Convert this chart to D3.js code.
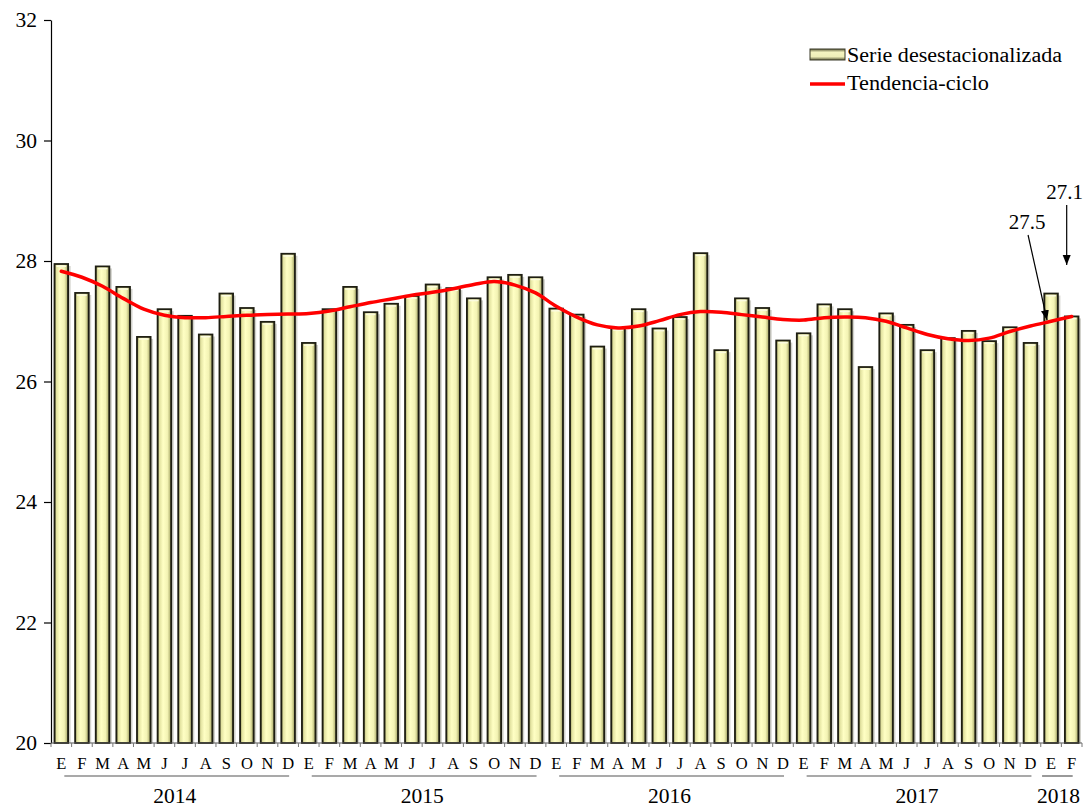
<!DOCTYPE html>
<html>
<head>
<meta charset="utf-8">
<script src="https://cdn.jsdelivr.net/npm/d3@7"></script>
<style>
html,body{margin:0;padding:0;background:#fff;}
svg{display:block;font-family:"Liberation Serif","Times New Roman",serif;}
</style>
</head>
<body>
<svg id="chart" width="1086" height="807"></svg>
<script>
const months = ["E","F","M","A","M","J","J","A","S","O","N","D"];
const years = ["2014","2015","2016","2017","2018"];
const monthsPerYear = [12,12,12,12,2];
const yTicks = [20,22,24,26,28,30,32];

const serie = [27.95,27.47,27.91,27.57,26.74,27.20,27.09,26.78,27.46,27.22,26.99,28.12,
               26.64,27.20,27.57,27.15,27.29,27.42,27.61,27.55,27.38,27.73,27.77,27.73,
               27.21,27.11,26.58,26.89,27.20,26.88,27.07,28.13,26.52,27.38,27.22,26.68,
               26.80,27.28,27.20,26.24,27.13,26.94,26.52,26.72,26.84,26.67,26.90,26.64,
               27.46,27.08];
const tendencia = [27.83,27.73,27.58,27.38,27.20,27.10,27.06,27.06,27.08,27.10,27.11,27.12,
                   27.13,27.17,27.24,27.31,27.37,27.43,27.48,27.54,27.61,27.66,27.60,27.47,
                   27.25,27.07,26.94,26.89,26.92,27.01,27.11,27.16,27.15,27.11,27.07,27.03,
                   27.02,27.06,27.07,27.06,27.00,26.89,26.78,26.71,26.68,26.72,26.83,26.92,
                   27.00,27.08];
const annotations = [{idx:48, text:"27.5"},{idx:49, text:"27.1"}];

(function(){
const svg = d3.select("#chart");
const pLeft = 51, pRight = 1082, pTop = 20, pBottom = 743;

const idx = d3.range(serie.length);
const x = d3.scaleBand().domain(idx).range([pLeft, pRight]).paddingInner(0.34).paddingOuter(0.17);
const y = d3.scaleLinear().domain([20, 32]).range([pBottom, pTop]);
const step = x.step(), off = (step - x.bandwidth()) / 2;

const defs = svg.append("defs");
const g = defs.append("linearGradient").attr("id","barGrad").attr("x1","0").attr("x2","1").attr("y1","0").attr("y2","0");
[[0,"#7a7a48"],[0.14,"#e2e2a0"],[0.4,"#ffffc4"],[0.72,"#f3f3b4"],[0.88,"#c4c484"],[1,"#6a6a3e"]]
  .forEach(s => g.append("stop").attr("offset", s[0]).attr("stop-color", s[1]));
const gl = defs.append("linearGradient").attr("id","legGrad").attr("x1","0").attr("x2","0").attr("y1","0").attr("y2","1");
[[0,"#5e5e3c"],[0.3,"#f4f4c0"],[0.7,"#eeeeb8"],[1,"#5e5e3c"]]
  .forEach(s => gl.append("stop").attr("offset", s[0]).attr("stop-color", s[1]));
defs.append("marker").attr("id","arrow").attr("viewBox","0 0 10 10").attr("refX",10).attr("refY",5)
  .attr("markerWidth",10).attr("markerHeight",10).attr("markerUnits","userSpaceOnUse").attr("orient","auto")
  .append("path").attr("d","M0,1 L10,5 L0,9 Z").attr("fill","#000");

// shadows
svg.append("g").selectAll("rect").data(serie).join("rect")
  .attr("x", (d,i) => x(i) + 2.5)
  .attr("y", d => y(d) + 2)
  .attr("width", x.bandwidth())
  .attr("height", d => pBottom - y(d) - 2)
  .attr("fill", "#d2d2cc");

// bars
svg.append("g").selectAll("rect").data(serie).join("rect")
  .attr("x", (d,i) => x(i))
  .attr("y", d => y(d))
  .attr("width", x.bandwidth())
  .attr("height", d => pBottom - y(d))
  .attr("fill", "url(#barGrad)")
  .attr("stroke", "#1e1e12")
  .attr("stroke-width", 1.8);
svg.append("g").selectAll("line").data(serie).join("line")
  .attr("x1", (d,i) => x(i) + 2).attr("x2", (d,i) => x(i) + x.bandwidth() - 2)
  .attr("y1", d => y(d) + 2.2).attr("y2", d => y(d) + 2.2)
  .attr("stroke", "#fbfbe0").attr("stroke-width", 1.5);

// y axis
const yAxis = svg.append("g").attr("transform", `translate(${pLeft},0)`)
  .call(d3.axisLeft(y).tickValues(yTicks).tickSize(7).tickSizeOuter(0).tickFormat(d3.format("d")));
yAxis.select(".domain").attr("stroke", "#000").attr("stroke-width", 1.2);
yAxis.selectAll(".tick line").attr("stroke", "#000").attr("stroke-width", 1.2);
yAxis.selectAll(".tick text").attr("font-size", 21.5).attr("font-family", "Liberation Serif")
  .attr("fill", "#000").attr("x", -14);

// x baseline + ticks
svg.append("line").attr("x1", pLeft).attr("x2", pRight).attr("y1", pBottom).attr("y2", pBottom)
  .attr("stroke", "#555").attr("stroke-width", 1.2);
svg.append("g").selectAll("line").data(d3.range(serie.length + 1)).join("line")
  .attr("x1", i => pLeft + i * step).attr("x2", i => pLeft + i * step)
  .attr("y1", pBottom).attr("y2", pBottom + 4)
  .attr("stroke", "#777").attr("stroke-width", 1);

// month labels
svg.append("g").selectAll("text").data(idx).join("text")
  .attr("x", i => x(i) + x.bandwidth() / 2)
  .attr("y", 769)
  .attr("text-anchor", "middle")
  .attr("font-size", 16.5)
  .attr("fill", "#000")
  .text(i => months[i % 12]);

// years
let startIdx = 0;
years.forEach((yr, k) => {
  const n = monthsPerYear[k];
  const first = startIdx, last = startIdx + n - 1;
  const cx0 = x(first) + x.bandwidth() / 2, cx1 = x(last) + x.bandwidth() / 2;
  const lx0 = k === years.length - 1 ? cx0 - 9 : cx0 + 3;
  svg.append("line").attr("x1", lx0).attr("x2", cx1 + 1).attr("y1", 776).attr("y2", 776)
    .attr("stroke", "#555").attr("stroke-width", 1.2);
  const mid = (x(first) - off + x(last) + x.bandwidth() + off) / 2;
  svg.append("text").attr("x", k === years.length - 1 ? mid - 3 : mid).attr("y", 803)
    .attr("text-anchor", "middle").attr("font-size", 21.5).attr("fill", "#000").text(yr);
  startIdx += n;
});

// trend
const line = d3.line().x((d,i) => x(i) + x.bandwidth() / 2).y(d => y(d)).curve(d3.curveCatmullRom.alpha(0.5));
svg.append("path").datum(tendencia).attr("d", line)
  .attr("fill", "none").attr("stroke", "#ff0000").attr("stroke-width", 3.5).attr("stroke-linecap", "round");

// annotations
const a0 = annotations[0], a1 = annotations[1];
const ax0 = x(a0.idx) + x.bandwidth() / 2, ax1 = x(a1.idx) + x.bandwidth() / 2;
svg.append("text").attr("x", ax0 - 24).attr("y", 229).attr("text-anchor", "middle")
  .attr("font-size", 21).attr("fill", "#000").text(a0.text);
svg.append("line").attr("x1", ax0 - 23).attr("y1", 235).attr("x2", ax0 - 4).attr("y2", y(tendencia[a0.idx]) - 1)
  .attr("stroke", "#000").attr("stroke-width", 1.2).attr("marker-end", "url(#arrow)");
svg.append("text").attr("x", ax1 - 7).attr("y", 199).attr("text-anchor", "middle")
  .attr("font-size", 21).attr("fill", "#000").text(a1.text);
svg.append("line").attr("x1", ax1 - 5).attr("y1", 205).attr("x2", ax1 - 5).attr("y2", 265)
  .attr("stroke", "#000").attr("stroke-width", 1.2).attr("marker-end", "url(#arrow)");

// legend
const lg = svg.append("g");
lg.append("rect").attr("x", 810).attr("y", 49).attr("width", 35).attr("height", 11)
  .attr("fill", "url(#legGrad)").attr("stroke", "#3a3a28").attr("stroke-width", 1);
lg.append("text").attr("x", 847).attr("y", 62).attr("font-size", 20.5).attr("fill", "#000")
  .attr("textLength", 215).attr("lengthAdjust", "spacingAndGlyphs").text("Serie desestacionalizada");
lg.append("line").attr("x1", 810).attr("x2", 845).attr("y1", 84).attr("y2", 84)
  .attr("stroke", "#ff0000").attr("stroke-width", 3.5);
lg.append("text").attr("x", 847).attr("y", 90).attr("font-size", 20.5).attr("fill", "#000")
  .attr("textLength", 142).attr("lengthAdjust", "spacingAndGlyphs").text("Tendencia-ciclo");
})();
</script>
</body>
</html>
